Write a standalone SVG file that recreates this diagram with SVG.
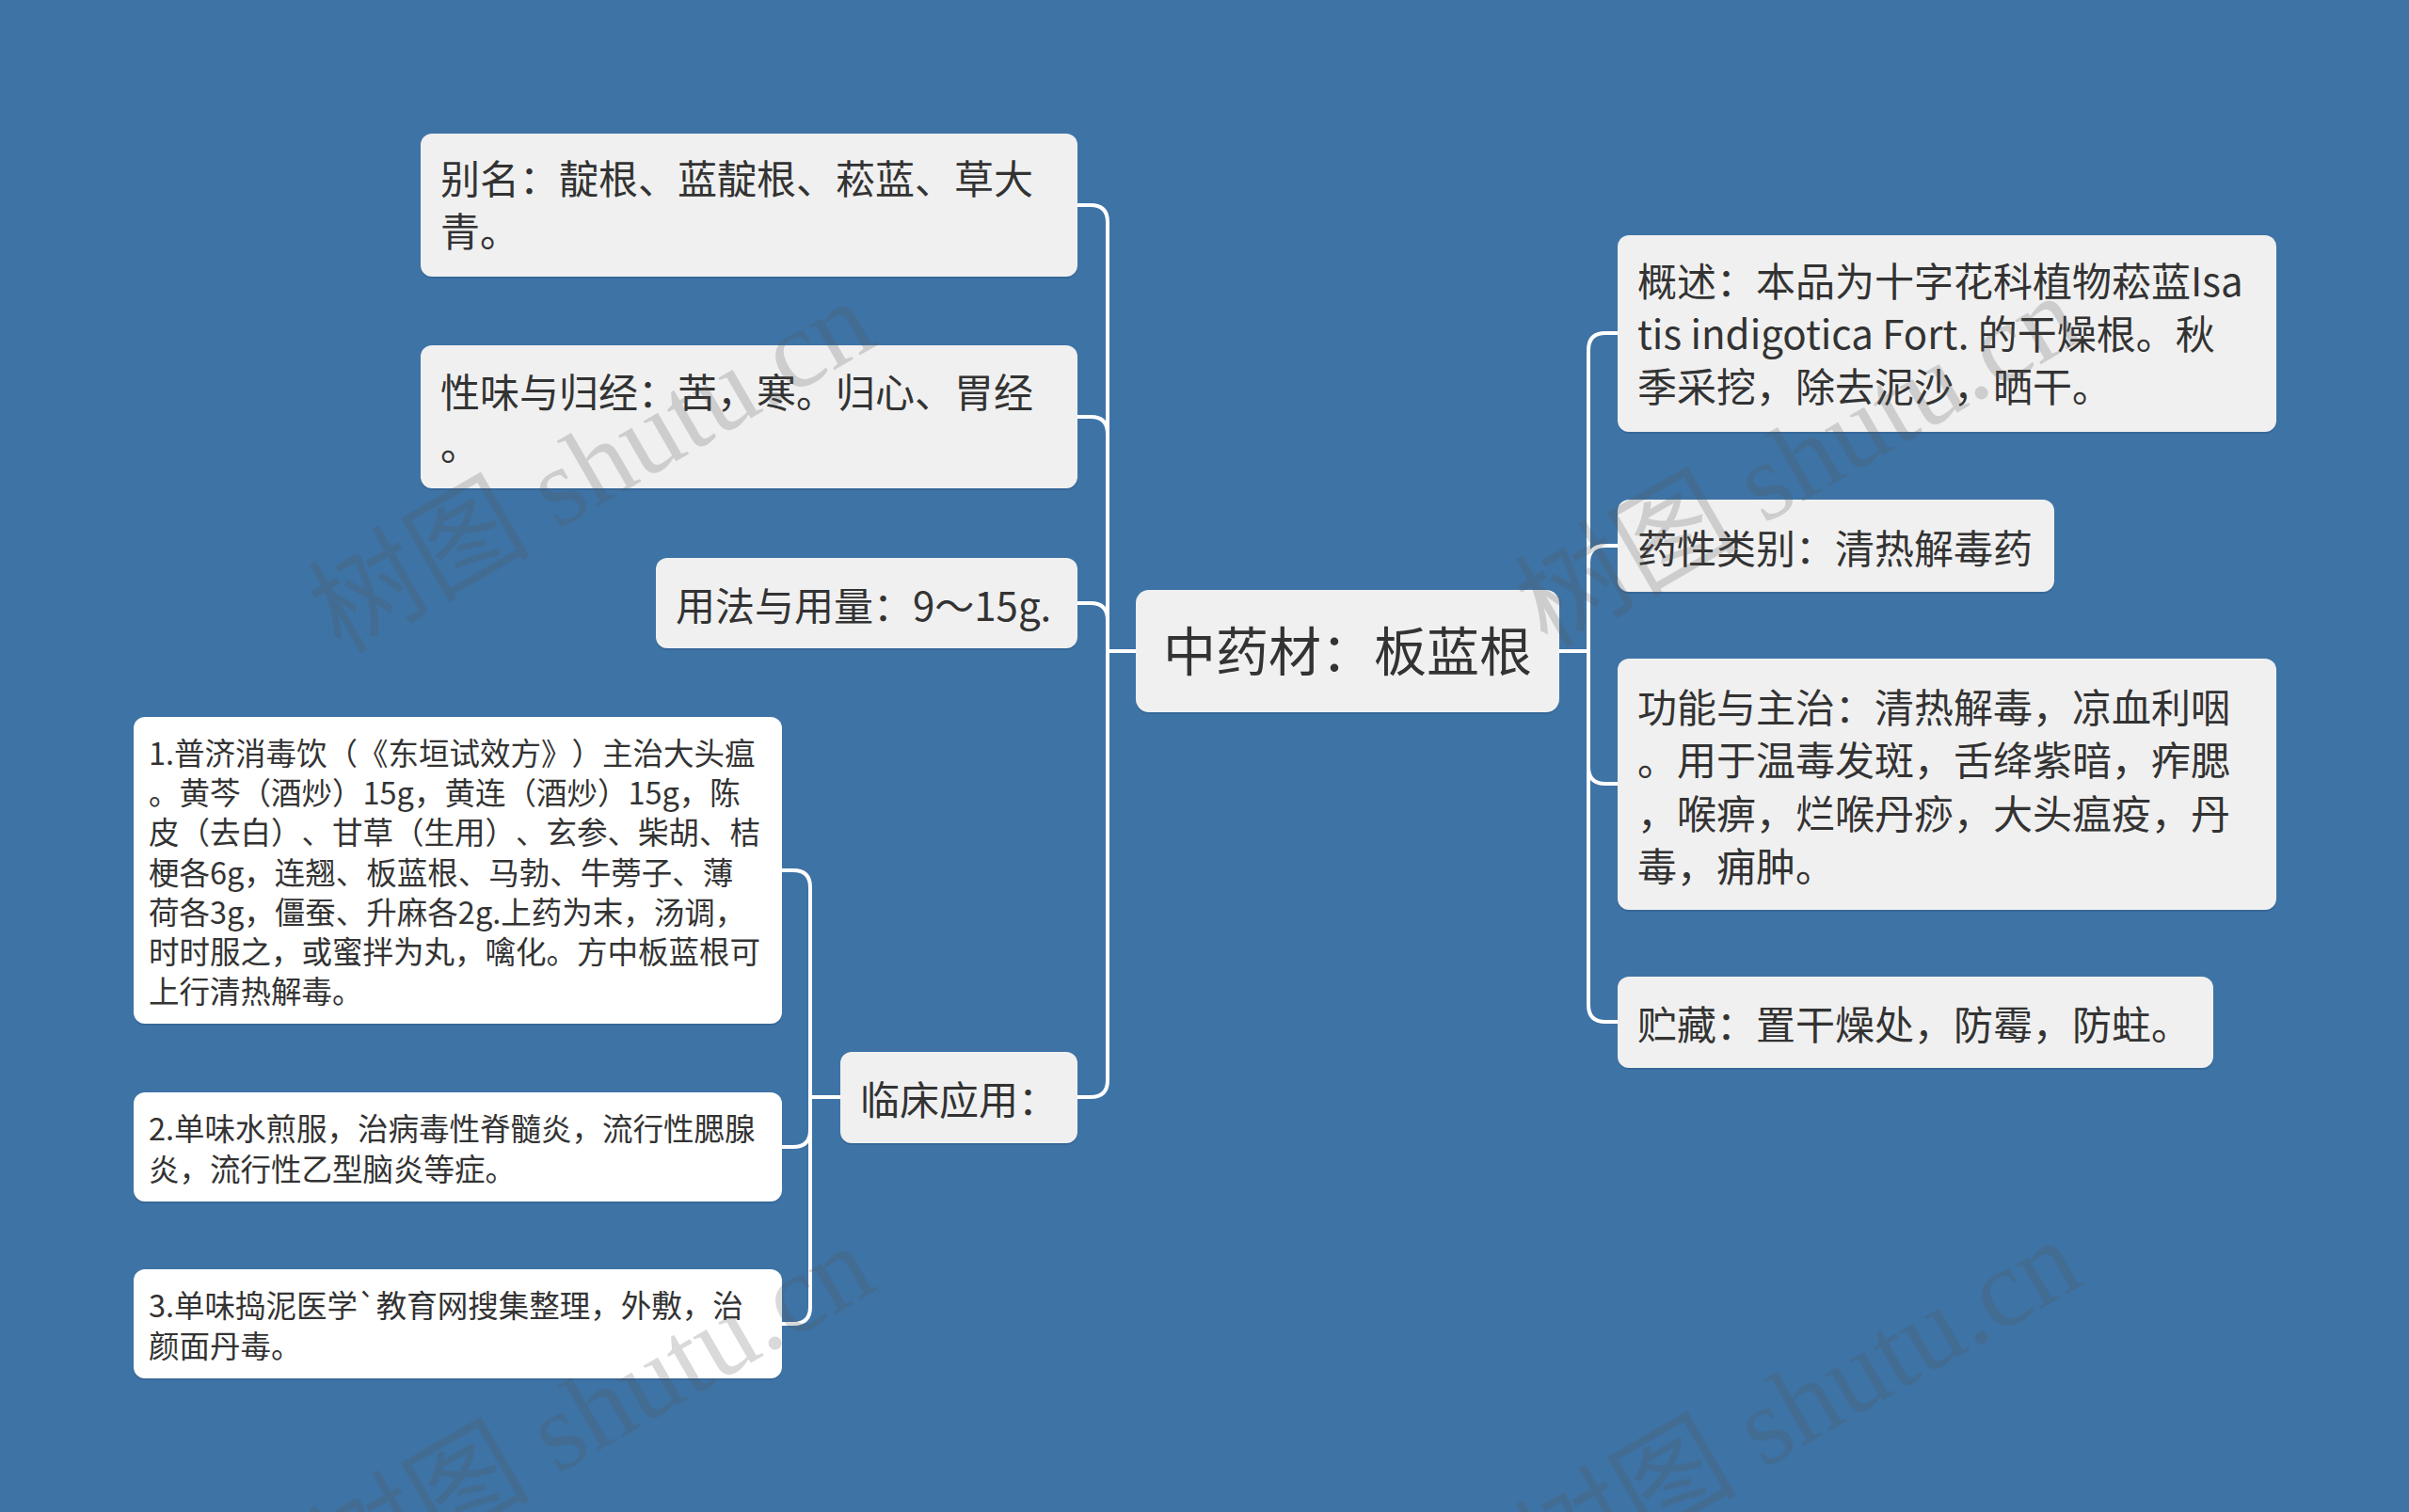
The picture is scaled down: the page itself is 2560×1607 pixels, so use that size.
<svg xmlns="http://www.w3.org/2000/svg" width="2560" height="1607" viewBox="0 0 2560 1607">
<defs>
<style>
.bg{fill:#3e73a6}
.shadow{fill:#2f5f8c;opacity:0.55}
.main{fill:#f0f0f0}
.sub{fill:#ffffff}
.t{font-family:"Noto Sans CJK SC","Noto Sans",sans-serif;fill:#333333;font-feature-settings:"chws" 0,"halt" 0,"palt" 0;text-spacing-trim:space-all}
.t42{font-size:42px}
.t56{font-size:56px}
.t32{font-size:32.5px}
.conn{fill:none;stroke:#ffffff;stroke-width:4;stroke-linecap:round}
.wm{font-family:"Liberation Serif","Noto Sans CJK SC",serif;font-size:118px;fill:#555555;opacity:0.22}
</style>
</defs>
<rect class="bg" x="0" y="0" width="2560" height="1607"/>

<g id="connectors">
<path class="conn" d="M1207 692 H1177"/>
<path class="conn" d="M1177 692 V236 Q1177 218 1159 218 H1145"/>
<path class="conn" d="M1177 692 V461 Q1177 443 1159 443 H1145"/>
<path class="conn" d="M1177 692 V659 Q1177 641 1159 641 H1145"/>
<path class="conn" d="M1177 692 V1148 Q1177 1166 1159 1166 H1145"/>
<path class="conn" d="M1657 692 H1688"/>
<path class="conn" d="M1688 692 V372 Q1688 354 1706 354 H1719"/>
<path class="conn" d="M1688 692 V598 Q1688 580 1706 580 H1719"/>
<path class="conn" d="M1688 692 V815 Q1688 833 1706 833 H1719"/>
<path class="conn" d="M1688 692 V1068 Q1688 1086 1706 1086 H1719"/>
<path class="conn" d="M893 1166 H861"/>
<path class="conn" d="M861 1166 V943 Q861 925 843 925 H831"/>
<path class="conn" d="M861 1166 V1201 Q861 1219 843 1219 H831"/>
<path class="conn" d="M861 1166 V1389 Q861 1407 843 1407 H831"/>
</g>

<g id="center">
<rect class="shadow" x="1207" y="629" width="450" height="130" rx="14"/>
<rect class="main" x="1207" y="627" width="450" height="130" rx="14"/>
<text class="t t56" x="1432" y="713" text-anchor="middle">中药材：板蓝根</text>
</g>

<g id="n-bieming">
<rect class="shadow" x="447" y="144" width="698" height="152" rx="12"/>
<rect class="main" x="447" y="142" width="698" height="152" rx="12"/>
<text class="t t42"><tspan x="468" y="206">别名：靛根、蓝靛根、菘蓝、草大</tspan><tspan x="468" y="262">青。</tspan></text>
</g>

<g id="n-xingwei">
<rect class="shadow" x="447" y="369" width="698" height="152" rx="12"/>
<rect class="main" x="447" y="367" width="698" height="152" rx="12"/>
<text class="t t42"><tspan x="468" y="433">性味与归经：苦，寒。归心、胃经</tspan><tspan x="468" y="489">。</tspan></text>
</g>

<g id="n-yongfa">
<rect class="shadow" x="697" y="595" width="448" height="96" rx="12"/>
<rect class="main" x="697" y="593" width="448" height="96" rx="12"/>
<text class="t t42" x="718" y="660">用法与用量：9～15g.</text>
</g>

<g id="n-linchuang">
<rect class="shadow" x="893" y="1120" width="252" height="97" rx="12"/>
<rect class="main" x="893" y="1118" width="252" height="97" rx="12"/>
<text class="t t42" x="914" y="1185">临床应用：</text>
</g>

<g id="n-sub1">
<rect class="shadow" x="142" y="764" width="689" height="326" rx="12"/>
<rect class="sub" x="142" y="762" width="689" height="326" rx="12"/>
<text class="t t32">
<tspan x="158" y="813">1.普济消毒饮（《东垣试效方》）主治大头瘟</tspan>
<tspan x="158" y="855">。黄芩（酒炒）15g，黄连（酒炒）15g，陈</tspan>
<tspan x="158" y="897">皮（去白）、甘草（生用）、玄参、柴胡、桔</tspan>
<tspan x="158" y="940">梗各6g，连翘、板蓝根、马勃、牛蒡子、薄</tspan>
<tspan x="158" y="982">荷各3g，僵蚕、升麻各2g.上药为末，汤调，</tspan>
<tspan x="158" y="1024">时时服之，或蜜拌为丸，噙化。方中板蓝根可</tspan>
<tspan x="158" y="1066">上行清热解毒。</tspan>
</text>
</g>

<g id="n-sub2">
<rect class="shadow" x="142" y="1163" width="689" height="116" rx="12"/>
<rect class="sub" x="142" y="1161" width="689" height="116" rx="12"/>
<text class="t t32"><tspan x="158" y="1212">2.单味水煎服，治病毒性脊髓炎，流行性腮腺</tspan><tspan x="158" y="1255">炎，流行性乙型脑炎等症。</tspan></text>
</g>

<g id="n-sub3">
<rect class="shadow" x="142" y="1351" width="689" height="116" rx="12"/>
<rect class="sub" x="142" y="1349" width="689" height="116" rx="12"/>
<text class="t t32"><tspan x="158" y="1400">3.单味捣泥医学`教育网搜集整理，外敷，治</tspan><tspan x="158" y="1443">颜面丹毒。</tspan></text>
</g>

<g id="n-gaishu">
<rect class="shadow" x="1719" y="252" width="700" height="209" rx="12"/>
<rect class="main" x="1719" y="250" width="700" height="209" rx="12"/>
<text class="t t42"><tspan x="1740" y="315">概述：本品为十字花科植物菘蓝Isa</tspan><tspan x="1740" y="371">tis indigotica Fort. 的干燥根。秋</tspan><tspan x="1740" y="427">季采挖，除去泥沙，晒干。</tspan></text>
</g>

<g id="n-yaoxing">
<rect class="shadow" x="1719" y="533" width="464" height="98" rx="12"/>
<rect class="main" x="1719" y="531" width="464" height="98" rx="12"/>
<text class="t t42" x="1740" y="599">药性类别：清热解毒药</text>
</g>

<g id="n-gongneng">
<rect class="shadow" x="1719" y="702" width="700" height="267" rx="12"/>
<rect class="main" x="1719" y="700" width="700" height="267" rx="12"/>
<text class="t t42"><tspan x="1740" y="768">功能与主治：清热解毒，凉血利咽</tspan><tspan x="1740" y="824">。用于温毒发斑，舌绛紫暗，痄腮</tspan><tspan x="1740" y="881">，喉痹，烂喉丹痧，大头瘟疫，丹</tspan><tspan x="1740" y="937">毒，痈肿。</tspan></text>
</g>

<g id="n-zhucang">
<rect class="shadow" x="1719" y="1040" width="633" height="97" rx="12"/>
<rect class="main" x="1719" y="1038" width="633" height="97" rx="12"/>
<text class="t t42" x="1740" y="1105">贮藏：置干燥处，防霉，防蛀。</text>
</g>

<g id="watermarks">
<text class="wm" transform="translate(362 696) rotate(-30)">树图 shutu.cn</text>
<text class="wm" transform="translate(1644 690) rotate(-30)">树图 shutu.cn</text>
<text class="wm" transform="translate(362 1700) rotate(-30)">树图 shutu.cn</text>
<text class="wm" transform="translate(1644 1694) rotate(-30)">树图 shutu.cn</text>
</g>
</svg>
